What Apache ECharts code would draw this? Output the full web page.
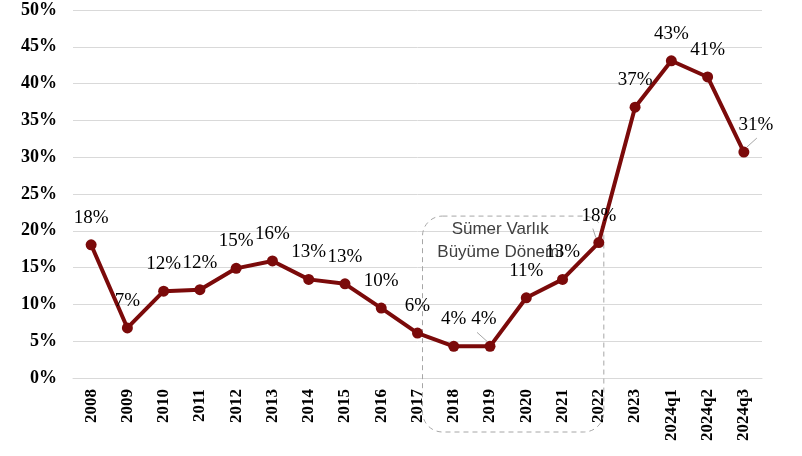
<!DOCTYPE html>
<html><head><meta charset="utf-8">
<script src="https://cdn.jsdelivr.net/npm/echarts@6/dist/echarts.min.js"></script>
<style>html,body{margin:0;padding:0;background:#fff}#c{width:802px;height:456px}</style>
</head><body><div id="c"></div>
<script>
const categories = ['2008','2009','2010','2011','2012','2013','2014','2015','2016','2017','2018','2019','2020','2021','2022','2023','2024q1','2024q2','2024q3'];
const values = [18.1, 6.8, 11.8, 12.0, 14.9, 15.9, 13.4, 12.8, 9.5, 6.1, 4.3, 4.3, 10.9, 13.4, 18.4, 36.8, 43.1, 40.9, 30.7];
const yTicks = [0,5,10,15,20,25,30,35,40,45,50];
const annotationLines = ['Sümer Varlık', 'Büyüme Dönemi'];

const labelOffsets = {11: [-6, 0], 18: [12, 0]};
const leaderIdx = [11, 14, 18];
const chart = echarts.init(document.getElementById('c'));
const serif = '"Liberation Serif", "Times New Roman", serif';
chart.setOption({
  animation: false,
  grid: {left: 73, right: 40, top: 10, bottom: 78},
  xAxis: {
    type: 'category', data: categories, boundaryGap: true,
    axisLine: {show: true, lineStyle: {color: '#d9d9d9', width: 1}},
    axisTick: {show: false},
    axisLabel: {rotate: 90, margin: 11, fontFamily: serif, fontWeight: 'bold', fontSize: 17, color: '#000', interval: 0}
  },
  yAxis: {
    type: 'value', min: 0, max: 50, interval: 5,
    axisLine: {show: false}, axisTick: {show: false},
    splitLine: {lineStyle: {color: '#d9d9d9', width: 1}},
    axisLabel: {margin: 16, fontFamily: serif, fontWeight: 'bold', fontSize: 18, color: '#000', formatter: v => v + '%'}
  },
  series: [{
    type: 'line',
    data: values.map((v, i) => ({
      value: v,
      label: labelOffsets[i] ? {offset: labelOffsets[i]} : undefined
    })),
    symbol: 'circle', symbolSize: 11,
    lineStyle: {color: '#7b0a0a', width: 4},
    itemStyle: {color: '#7b0a0a'},
    label: {show: true, position: 'top', distance: 12, fontFamily: serif, fontSize: 19, color: '#000',
      formatter: p => Math.round(p.value) + '%'}
  }]
});

function drawExtras() {
  const xl = chart.convertToPixel({xAxisIndex: 0}, '2017') + 5;
  const xr = chart.convertToPixel({xAxisIndex: 0}, '2022') + 5;
  const yt = chart.convertToPixel({yAxisIndex: 0}, 22);
  const y0 = chart.convertToPixel({yAxisIndex: 0}, 0);
  const yb = y0 + 54;
  const cx = (xl + xr) / 2 - 13;
  const g = [
    {type: 'rect', shape: {x: xl, y: yt, width: xr - xl, height: yb - yt, r: 20}, z: 1,
      style: {fill: 'none', stroke: '#a6a6a6', lineWidth: 1, lineDash: [5, 4]}},
    {type: 'text', x: cx, y: yt + 13, z: 2, style: {text: annotationLines[0], align: 'center', verticalAlign: 'middle',
      font: '17px "Liberation Sans", Arial, sans-serif', fill: '#404040'}},
    {type: 'text', x: cx, y: yt + 36, z: 2, style: {text: annotationLines[1], align: 'center', verticalAlign: 'middle',
      font: '17px "Liberation Sans", Arial, sans-serif', fill: '#404040'}}
  ];
  // small leader lines from label toward point
  leaderIdx.forEach(i => {
    const p = chart.convertToPixel({gridIndex: 0}, [i, values[i]]);
    const dx = i === 18 ? 1 : (i === 11 ? -1 : 0);
    g.push({type: 'line', z: 3, shape: {x1: p[0] + dx * 3 + (i === 14 ? -3 : 0), y1: p[1] - 5, x2: p[0] + dx * 13 + (i === 14 ? -6 : 0), y2: p[1] - 14},
      style: {stroke: '#a6a6a6', lineWidth: 1}});
  });
  chart.setOption({graphic: g});
}
drawExtras();
</script></body></html>
